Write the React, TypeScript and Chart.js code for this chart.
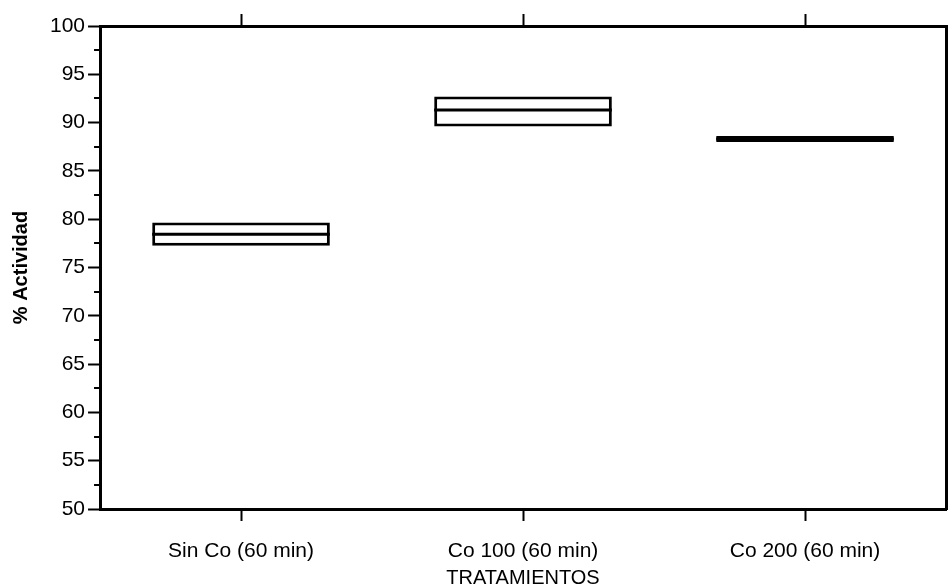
import { useEffect, useRef } from 'react';
import { Chart, registerables } from 'chart.js';

Chart.register(...registerables);

const categories = ['Sin Co (60 min)', 'Co 100 (60 min)', 'Co 200 (60 min)'];
const q1Values = [77.25, 89.6, 88.0];
const q3Values = [79.65, 92.7, 88.6];
const medianValues = [78.45, 91.3, 88.3];
const minorTicks = [52.5, 57.5, 62.5, 67.5, 72.5, 77.5, 82.5, 87.5, 92.5, 97.5];
const yMin = 50;
const yMax = 100;
const yStep = 5;

const FONT = "'Liberation Sans', Arial, Helvetica, sans-serif";

const minorTickPlugin = {
  id: 'minorTicks',
  afterDraw(chart: any) {
    const y = chart.scales.y;
    const ctx = chart.ctx;
    ctx.save();
    ctx.strokeStyle = '#000';
    ctx.lineWidth = 2;
    for (const v of minorTicks) {
      const py = Math.round(y.getPixelForValue(v));
      ctx.beginPath();
      ctx.moveTo(y.right - 6, py);
      ctx.lineTo(y.right, py);
      ctx.stroke();
    }
    ctx.restore();
  },
};

export default function App() {
  const ref = useRef<HTMLCanvasElement | null>(null);
  useEffect(() => {
    if (!ref.current) return;
    const gridCommon = {
      display: true,
      drawOnChartArea: false,
      drawTicks: true,
      tickWidth: 2,
      tickColor: '#000',
      offset: false,
    };
    const chart = new Chart(ref.current, {
      type: 'bar',
      data: {
        labels: categories,
        datasets: [
          {
            label: 'box',
            data: categories.map((_, i) => [q1Values[i], q3Values[i]]) as any,
            backgroundColor: '#fff',
            borderColor: '#000',
            borderWidth: 3,
            borderSkipped: false,
            grouped: false,
            categoryPercentage: 1,
            barPercentage: 0.63,
            order: 1,
          } as any,
          {
            label: 'median',
            data: medianValues.map((m) => [m - 0.16, m + 0.16]) as any,
            backgroundColor: '#000',
            borderWidth: 0,
            grouped: false,
            categoryPercentage: 1,
            barPercentage: 0.63,
            order: 0,
          } as any,
        ],
      },
      options: {
        animation: false,
        responsive: true,
        maintainAspectRatio: false,
        layout: { padding: { top: 14, right: 2, bottom: 0, left: 9 } },
        plugins: { legend: { display: false }, tooltip: { enabled: false } },
        scales: {
          x: {
            type: 'category',
            position: 'bottom',
            offset: true,
            grid: { ...gridCommon, tickLength: 12 },
            border: { display: true, color: '#000', width: 3 },
            ticks: { color: '#000', font: { family: FONT, size: 21, lineHeight: 1.0 }, padding: 20 },
            title: {
              display: true,
              text: 'TRATAMIENTOS',
              color: '#000',
              font: { family: FONT, size: 20, lineHeight: 1.2 },
              padding: { top: -16, bottom: -2 },
            },
          },
          x2: {
            type: 'category',
            position: 'top',
            labels: categories,
            offset: true,
            grid: { ...gridCommon, tickLength: 12 },
            border: { display: true, color: '#000', width: 3 },
            ticks: { display: false },
          },
          y: {
            type: 'linear',
            position: 'left',
            min: yMin,
            max: yMax,
            grid: { ...gridCommon, tickLength: 12 },
            border: { display: true, color: '#000', width: 3 },
            ticks: {
              stepSize: yStep,
              color: '#000',
              font: { family: FONT, size: 21 },
              padding: 3,
            },
            title: {
              display: true,
              text: '% Actividad',
              color: '#000',
              font: { family: FONT, size: 20, weight: 'bold' },
              padding: { top: 0, bottom: 14 },
            },
          },
          y2: {
            type: 'linear',
            position: 'right',
            min: yMin,
            max: yMax,
            grid: { ...gridCommon, tickLength: 2 },
            border: { display: true, color: '#000', width: 3 },
            ticks: { display: false, stepSize: 2.5 },
          },
        },
      } as any,
      plugins: [minorTickPlugin],
    });
    return () => chart.destroy();
  }, []);
  return (
    <div style={{ position: 'fixed', left: 0, top: 0, width: 950, height: 588, background: '#fff' }}>
      <canvas ref={ref} />
    </div>
  );
}
